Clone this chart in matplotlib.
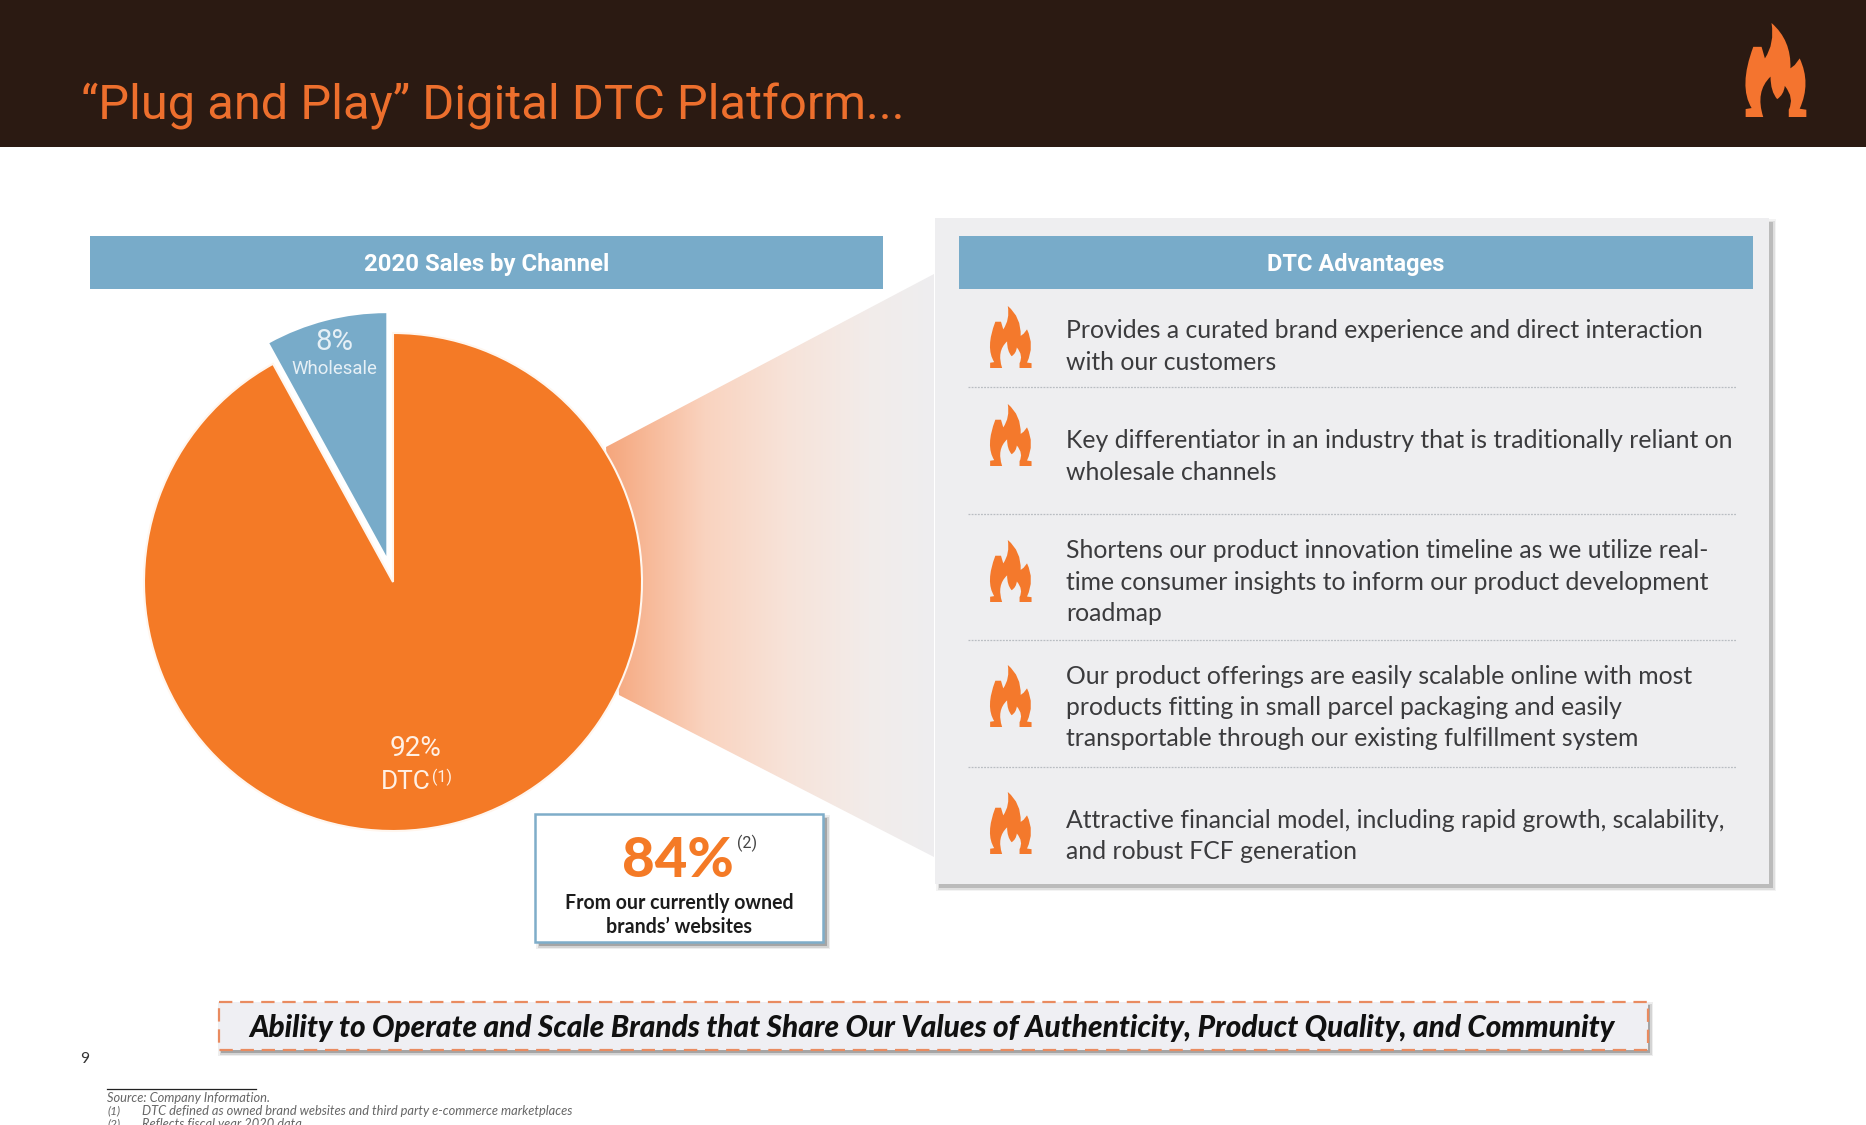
import numpy as np
import matplotlib
matplotlib.use("Agg")
import matplotlib.pyplot as plt
from matplotlib.patches import Rectangle, Polygon, PathPatch
from matplotlib.path import Path
from matplotlib.colors import LinearSegmentedColormap

# ---- data / text -------------------------------------------------------
title = "\u201cPlug and Play\u201d Digital DTC Platform..."
left_header = "2020 Sales by Channel"
right_header = "DTC Advantages"
channel_names = ["Wholesale", "DTC"]
channel_shares = [8, 92]
owned_share = 84
owned_lines = ["From our currently owned", "brands\u2019 websites"]
advantages = [
    ["Provides a curated brand experience and direct interaction", "with our customers"],
    ["Key differentiator in an industry that is traditionally reliant on", "wholesale channels"],
    ["Shortens our product innovation timeline as we utilize real-",
     "time consumer insights to inform our product development", "roadmap"],
    ["Our product offerings are easily scalable online with most",
     "products fitting in small parcel packaging and easily",
     "transportable through our existing fulfillment system"],
    ["Attractive financial model, including rapid growth, scalability,", "and robust FCF generation"],
]
banner = ("Ability to Operate and Scale Brands that Share Our Values of "
          "Authenticity, Product Quality, and Community")
page_number = "9"
footnotes = ["Source: Company Information.",
             "DTC defined as owned brand websites and third party e-commerce marketplaces",
             "Reflects fiscal year 2020 data"]

# ---- styles ------------------------------------------------------------
W, H = 1866, 1125
DARK = "#2b1a12"
ORANGE = "#f47a26"
FLAME = "#f4792c"
BLUE = "#78abc9"
PANEL = "#eeeef0"
BODY = "#3b3b3d"

fig = plt.figure(figsize=(W / 100, H / 100), dpi=100, facecolor="white")


def layer(z):
    a = fig.add_axes([0, 0, 1, 1], zorder=z)
    a.set_xlim(0, W)
    a.set_ylim(H, 0)
    a.axis("off")
    a.patch.set_alpha(0)
    return a


bg = layer(0)
top = layer(2)


def fit(ax, x, y, s, width, ha="left", va="center", **kw):
    """Real text scaled so that its drawn width matches a width in pixels."""
    t = ax.text(x, y, s, ha=ha, va=va, fontsize=20, **kw)
    r = fig.canvas.get_renderer()
    t.set_fontsize(20 * width / t.get_window_extent(r).width)
    return t


FLAME_VERTS = [
    (275, 68), (335, 120), (332, 205), (345, 195), (360, 175), (395, 250), (360, 327),
    (380, 330), (380, 352), (327, 352), (327, 330), (345, 295), (315, 258), (312, 285),
    (292, 298), (272, 275), (272, 230), (225, 275), (250, 352), (197, 352), (197, 328),
    (215, 325), (175, 260), (220, 140), (245, 140), (255, 175), (285, 130), (275, 68),
]
FLAME_CODES = [
    Path.MOVETO, Path.CURVE3, Path.CURVE3, Path.LINETO, Path.LINETO, Path.CURVE3, Path.CURVE3,
    Path.LINETO, Path.LINETO, Path.LINETO, Path.LINETO, Path.CURVE3, Path.CURVE3, Path.CURVE3,
    Path.CURVE3, Path.CURVE3, Path.CURVE3, Path.CURVE3, Path.CURVE3, Path.LINETO, Path.LINETO,
    Path.LINETO, Path.CURVE3, Path.CURVE3, Path.LINETO, Path.LINETO, Path.CURVE3, Path.CURVE3,
]


def flame(ax, x0, y0, x1, y1, color=FLAME):
    v = np.array(FLAME_VERTS, float)
    v[:, 0] = x0 + (v[:, 0] - 192) / 190 * (x1 - x0)
    v[:, 1] = y0 + (v[:, 1] - 68) / 284 * (y1 - y0)
    ax.add_patch(PathPatch(Path(v, FLAME_CODES), fc=color, ec="none"))


def shadow(ax, x0, y0, x1, y1, dx=4, dy=4, z=1, strength=1.0):
    for grow, alpha in ((3, 0.07), (1.5, 0.12), (0, 0.26)):
        ax.add_patch(Rectangle((x0 + dx - grow, y0 + dy - grow), x1 - x0 + 2 * grow, y1 - y0 + 2 * grow,
                               fc="#555555", ec="none", alpha=alpha * strength, zorder=z))


# ---- background shapes -------------------------------------------------
bg.add_patch(Rectangle((0, 0), W, 147, fc=DARK, ec="none"))
bg.add_patch(Rectangle((90, 236), 793, 53, fc=BLUE, ec="none"))

shadow(bg, 935, 218, 1769, 884, z=1)
bg.add_patch(Rectangle((935, 218), 834, 666, fc=PANEL, ec="none", zorder=2))
bg.add_patch(Rectangle((959, 236), 794, 53, fc=BLUE, ec="none", zorder=3))

cone = Polygon([(606, 447), (934, 274), (934, 857), (619, 695)], closed=True, fc="none", ec="none",
               transform=bg.transData)
bg.add_patch(cone)
ramp = LinearSegmentedColormap.from_list(
    "cone", [(0, "#f5a67c"), (0.30, "#fad3bf"), (0.55, "#f7e3d9"), (0.80, "#f2ecea"), (1, PANEL)])
img = bg.imshow(np.linspace(0, 1, 256)[None, :], cmap=ramp, extent=(606, 935, 860, 270), aspect="auto", zorder=1.5)
img.set_clip_path(cone)
bg.set_xlim(0, W)
bg.set_ylim(H, 0)

# ---- pie ---------------------------------------------------------------
CX, CY, R = 393, 582, 249
span = 1.25
pie_ax = fig.add_axes([(CX - R * span) / W, 1 - (CY + R * span) / H, 2 * R * span / W, 2 * R * span / H], zorder=1)
pie_ax.patch.set_alpha(0)
wedges, _ = pie_ax.pie(channel_shares, colors=[BLUE, ORANGE], startangle=90, explode=[0.108, 0], radius=1,
                       wedgeprops=dict(edgecolor="none"))
wedges[0].set_radius(0.975)
wedges[1].set_edgecolor("#fff6ee")
wedges[1].set_linewidth(1.5)
pie_ax.set_xlim(-span, span)
pie_ax.set_ylim(-span, span)

PIE_LABEL = "#e6f0f6"
PIE_LABEL2 = "#fff0e4"
fit(top, 334, 342, f"{channel_shares[0]}%", 38, ha="center", color=PIE_LABEL, family="Roboto")
fit(top, 334, 369, channel_names[0], 86, ha="center", color=PIE_LABEL, family="Roboto")
fit(top, 416, 749, f"{channel_shares[1]}%", 52, ha="center", color=PIE_LABEL2, family="Roboto")
fit(top, 381, 782, channel_names[1], 50, color=PIE_LABEL2, family="Roboto")
fit(top, 432, 777, "(1)", 20, color=PIE_LABEL2, family="Roboto")

# ---- header ------------------------------------------------------------
fit(top, 81, 106, title, 823, color="#ed6f2d", family="Roboto")
flame(top, 1744, 23, 1807, 117, color="#f4742f")
fit(top, 487, 265, left_header, 244, ha="center", color="white", family="Roboto", weight="bold")
fit(top, 1356, 265, right_header, 177, ha="center", color="white", family="Roboto", weight="bold")

# ---- advantages --------------------------------------------------------
row_first_y = [331, 441, 551, 676, 820]
line_step = 31.3
flame_tops = [306, 404, 540, 665, 792]
separators = [387, 514, 640, 767]
ref = fit(top, 1065, -100, advantages[0][0], 638, family="Lato", color=BODY)
body_size = ref.get_fontsize()
ref.remove()
for lines, y, fy in zip(advantages, row_first_y, flame_tops):
    for i, line in enumerate(lines):
        top.text(1066, y + i * line_step, line, fontsize=body_size, family="Lato", color=BODY, va="center")
    flame(top, 989, fy, 1032, fy + 62)
for y in separators:
    top.plot([968, 1736], [y, y], color="#b9bdc2", lw=0.9, ls=(0, (1.5, 1)))

# ---- 84% box -----------------------------------------------------------
shadow(top, 535, 814, 823, 942, z=1, strength=1.4)
top.add_patch(Rectangle((535, 814), 288, 128, fc="white", ec="#7fadc9", lw=1.8, zorder=2))
fit(top, 678, 861, f"{owned_share}%", 112, ha="center", color=ORANGE, family="Lato", weight="black", zorder=3)
fit(top, 737, 843, "(2)", 20, color="#444444", family="Roboto", zorder=3)
fit(top, 679, 903, owned_lines[0], 228, ha="center", color="#1c1c1c", family="Lato", weight="bold", zorder=3)
fit(top, 679, 927, owned_lines[1], 146, ha="center", color="#1c1c1c", family="Lato", weight="bold", zorder=3)

# ---- banner ------------------------------------------------------------
shadow(top, 219, 1002, 1648, 1050, dx=2, dy=3, z=1, strength=1.4)
top.add_patch(Rectangle((219, 1002), 1429, 48, fc="#efeff3", ec="#e98b60", lw=1.6, ls=(0, (6, 3.5)), zorder=2))
fit(top, 932, 1028, banner, 1366, ha="center", color="#111111", family="Lato", weight="black", style="italic", zorder=3)

# ---- footnotes ---------------------------------------------------------
fit(top, 80, 1059, page_number, 9, color="#333333", family="Lato")
top.plot([107, 256], [1089, 1089], color="#222222", lw=0.9)
NOTE = "#666666"
fit(top, 107, 1098, footnotes[0], 164, color=NOTE, family="Lato", style="italic")
fit(top, 107, 1111, "(1)", 13, color=NOTE, family="Lato", style="italic")
fit(top, 142, 1111, footnotes[1], 433, color=NOTE, family="Lato", style="italic")
fit(top, 107, 1124, "(2)", 13, color=NOTE, family="Lato", style="italic")
fit(top, 142, 1124, footnotes[2], 160, color=NOTE, family="Lato", style="italic")

fig.savefig("out.png", dpi=100, facecolor="white")
